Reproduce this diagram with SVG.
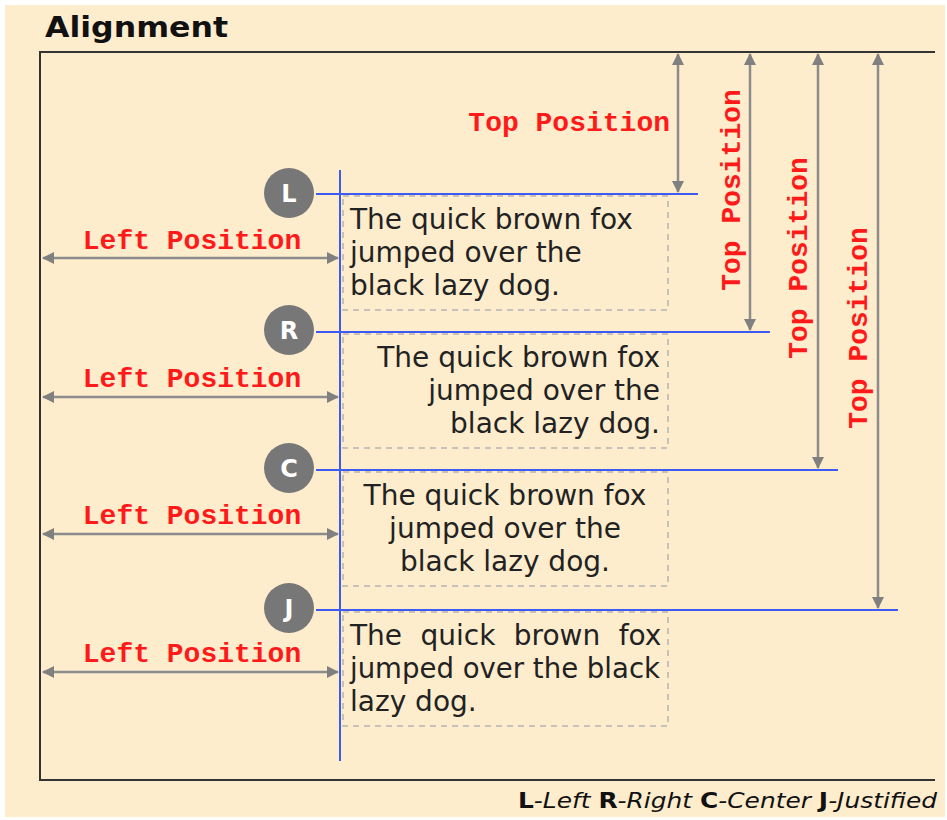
<svg xmlns="http://www.w3.org/2000/svg" width="947" height="820" viewBox="0 0 947 820">
<defs>
<marker id="ah" viewBox="0 0 12 12" refX="11" refY="6" markerWidth="12" markerHeight="12" markerUnits="userSpaceOnUse" orient="auto-start-reverse">
<path d="M0,0 L12,6 L0,12 Z" fill="#808080"/>
</marker>
<style>
.frame{stroke:#333;stroke-width:2;fill:none}
.blue{stroke:#3d5af1;stroke-width:2;fill:none}
.dim{stroke:#8c8c8c;stroke-width:2.5;fill:none;marker-start:url(#ah);marker-end:url(#ah)}
.box{stroke:#b4b4b4;stroke-width:1.5;fill:none;stroke-dasharray:6 5}
.lbl{font-family:"Liberation Mono","Courier New",monospace;font-weight:bold;font-size:28px;fill:#ff1a1a}
.body{font-family:"DejaVu Sans",Verdana,sans-serif;font-size:28px;fill:#222}
.circ{fill:#777}
.ctext{font-family:"DejaVu Sans",Verdana,sans-serif;font-weight:bold;font-size:24px;fill:#fff;text-anchor:middle}
</style>
</defs>
<rect x="5" y="5" width="940" height="812" fill="#feedcd"/>
<text x="45" y="37" font-family="DejaVu Sans, Verdana, sans-serif" font-weight="bold" font-size="29" fill="#111" textLength="183" lengthAdjust="spacingAndGlyphs">Alignment</text>
<path class="frame" d="M935,52 H40 V780 H935"/>

<g id="connectors">
<line class="blue" x1="340" y1="170" x2="340" y2="761"/>
<line class="blue" x1="316" y1="194" x2="698" y2="194"/>
<line class="blue" x1="316" y1="332" x2="770" y2="332"/>
<line class="blue" x1="316" y1="470" x2="838" y2="470"/>
<line class="blue" x1="316" y1="610" x2="898" y2="610"/>
<line class="dim" x1="43" y1="258" x2="338" y2="258"/>
<line class="dim" x1="43" y1="397" x2="338" y2="397"/>
<line class="dim" x1="43" y1="534" x2="338" y2="534"/>
<line class="dim" x1="43" y1="672" x2="338" y2="672"/>
<line class="dim" x1="678" y1="54" x2="678" y2="192"/>
<line class="dim" x1="750" y1="54" x2="750" y2="330"/>
<line class="dim" x1="818" y1="54" x2="818" y2="468"/>
<line class="dim" x1="878" y1="54" x2="878" y2="608"/>
</g>

<g id="labels">
<text class="lbl" x="192" y="249" text-anchor="middle">Left Position</text>
<text class="lbl" x="192" y="387" text-anchor="middle">Left Position</text>
<text class="lbl" x="192" y="524" text-anchor="middle">Left Position</text>
<text class="lbl" x="192" y="662" text-anchor="middle">Left Position</text>
<text class="lbl" x="670" y="131" text-anchor="end">Top Position</text>
<text class="lbl" text-anchor="middle" transform="translate(740,190) rotate(-90)">Top Position</text>
<text class="lbl" text-anchor="middle" transform="translate(807,258) rotate(-90)">Top Position</text>
<text class="lbl" text-anchor="middle" transform="translate(867,328) rotate(-90)">Top Position</text>
</g>

<g id="node-L">
<circle class="circ" cx="289" cy="193" r="25"/>
<text class="ctext" x="289" y="202">L</text>
<rect class="box" x="343" y="196" width="325" height="114"/>
<text class="body" x="350" y="229">The quick brown fox</text>
<text class="body" x="350" y="262">jumped over the</text>
<text class="body" x="350" y="295">black lazy dog.</text>
</g>

<g id="node-R">
<circle class="circ" cx="289" cy="330" r="25"/>
<text class="ctext" x="289" y="339">R</text>
<rect class="box" x="343" y="334" width="325" height="114"/>
<g text-anchor="end">
<text class="body" x="660" y="367">The quick brown fox</text>
<text class="body" x="660" y="400">jumped over the</text>
<text class="body" x="660" y="433">black lazy dog.</text>
</g>
</g>

<g id="node-C">
<circle class="circ" cx="289" cy="468" r="25"/>
<text class="ctext" x="289" y="477">C</text>
<rect class="box" x="343" y="472" width="325" height="114"/>
<g text-anchor="middle">
<text class="body" x="505" y="505">The quick brown fox</text>
<text class="body" x="505" y="538">jumped over the</text>
<text class="body" x="505" y="571">black lazy dog.</text>
</g>
</g>

<g id="node-J">
<circle class="circ" cx="289" cy="608" r="25"/>
<text class="ctext" x="289" y="617">J</text>
<rect class="box" x="343" y="612" width="325" height="114"/>
<text class="body" x="350" y="645" word-spacing="9.5">The quick brown fox</text>
<text class="body" x="350" y="678" textLength="310" lengthAdjust="spacingAndGlyphs">jumped over the black</text>
<text class="body" x="350" y="711">lazy dog.</text>
</g>

<text x="518" y="808" textLength="419" lengthAdjust="spacingAndGlyphs" font-family="DejaVu Sans, Verdana, sans-serif" font-size="22" fill="#111"><tspan font-weight="bold">L</tspan><tspan font-style="italic">-Left </tspan><tspan font-weight="bold">R</tspan><tspan font-style="italic">-Right </tspan><tspan font-weight="bold">C</tspan><tspan font-style="italic">-Center </tspan><tspan font-weight="bold">J</tspan><tspan font-style="italic">-Justified</tspan></text>
</svg>
